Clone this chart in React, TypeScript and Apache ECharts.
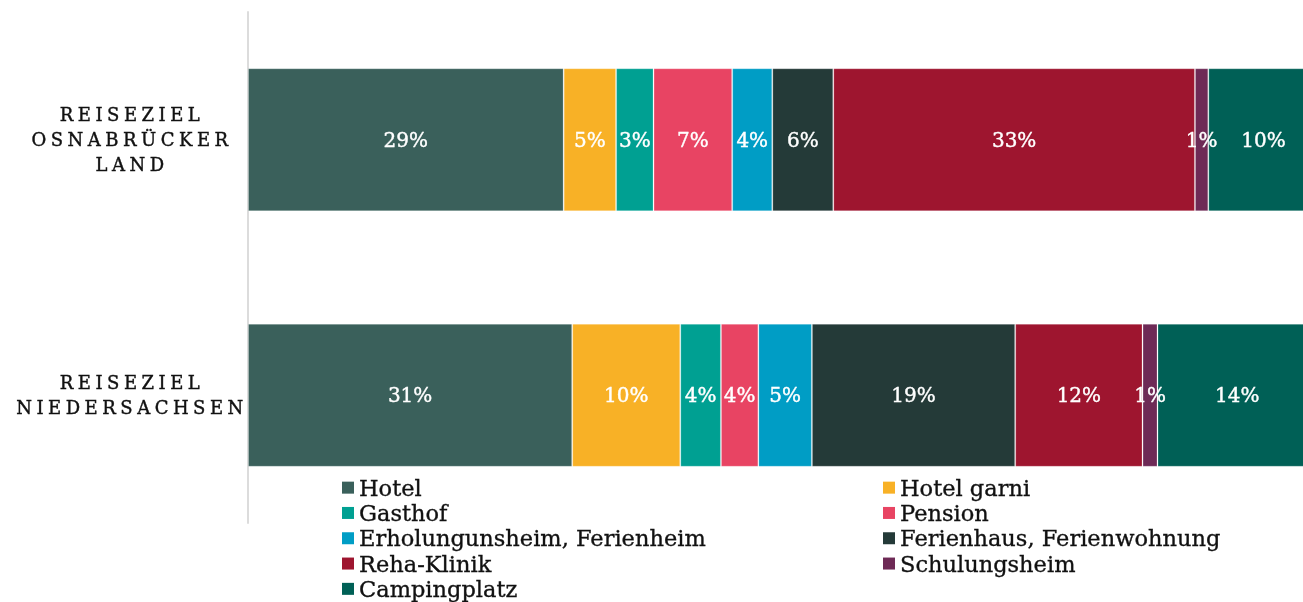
import React, { useEffect, useRef } from "react";
import * as echarts from "echarts";

const categories = ["REISEZIEL\nOSNABRÜCKER\nLAND", "REISEZIEL\nNIEDERSACHSEN"];
const seriesNames = [
  "Hotel",
  "Hotel garni",
  "Gasthof",
  "Pension",
  "Erholungunsheim, Ferienheim",
  "Ferienhaus, Ferienwohnung",
  "Reha-Klinik",
  "Schulungsheim",
  "Campingplatz",
];
// bar lengths
const osnaValues = [29.5, 4.9, 3.5, 7.35, 3.75, 5.7, 33.8, 1.25, 10.3];
const niedValues = [30.3, 10.1, 3.8, 3.5, 5.0, 19.0, 11.9, 1.4, 14.9];
// printed percentages
const osnaPct = [29, 5, 3, 7, 4, 6, 33, 1, 10];
const niedPct = [31, 10, 4, 4, 5, 19, 12, 1, 14];
const colors = [
  "#3a605b",
  "#f8b126",
  "#00a092",
  "#e84463",
  "#009dc5",
  "#243a38",
  "#9e152f",
  "#6e2a56",
  "#006056",
];
const legendLeft = [0, 2, 4, 6, 8].map((i) => seriesNames[i]);
const legendRight = [1, 3, 5, 7].map((i) => seriesNames[i]);

export default function App() {
  const ref = useRef<HTMLDivElement>(null);
  useEffect(() => {
    if (!ref.current) return;
    const chart = echarts.init(ref.current, null, { renderer: "svg" });
    const pct = [osnaPct, niedPct];
    const legendText = {
      fontFamily: "DejaVu Serif",
      fontSize: 22.5,
      color: "#111",
      lineHeight: 25.3,
      textBorderColor: "#111",
      textBorderWidth: 0.35,
    };
    const legendBase = {
      orient: "vertical",
      top: 475,
      padding: 0,
      itemGap: 0,
      itemWidth: 12,
      itemHeight: 12,
      icon: "rect",
      selectedMode: false,
      itemStyle: { borderWidth: 0 },
      textStyle: legendText,
    };
    chart.setOption({
      animation: false,
      grid: {
        left: 248,
        top: 12,
        width: 1070,
        bottom: 79,
        containLabel: false,
        outerBoundsMode: "none",
      },
      xAxis: { type: "value", min: 0, max: 100, show: false },
      yAxis: {
        type: "category",
        data: categories,
        inverse: true,
        axisLine: { show: true, lineStyle: { color: "#dcdcdc", width: 2 } },
        axisTick: { show: false },
        splitLine: { show: false },
        axisLabel: {
          fontFamily: "DejaVu Serif, spacedcaps",
          fontSize: 18,
          color: "#111",
          textBorderColor: "#111",
          textBorderWidth: 0.4,
          align: "center",
          margin: 116,
          lineHeight: 25,
        },
      },
      legend: [
        { ...legendBase, data: legendLeft, left: 342 },
        { ...legendBase, data: legendRight, left: 883 },
      ],
      series: seriesNames.map((name, i) => ({
        type: "bar",
        name,
        stack: "total",
        barWidth: 143,
        data: [osnaValues[i], niedValues[i]],
        itemStyle: {
          color: colors[i],
          borderColor: "rgba(255,255,255,0.22)",
          borderWidth: 1,
        },
        label: {
          show: true,
          position: "inside",
          color: "#fff",
          textBorderColor: "#fff",
          textBorderWidth: 0.4,
          fontFamily: "DejaVu Serif",
          fontSize: 20,
          formatter: (p: any) => pct[p.dataIndex][i] + "%",
        },
      })),
    });
    return () => chart.dispose();
  }, []);
  return (
    <>
      <style>{`text[style*="spacedcaps"]{letter-spacing:4.5px}`}</style>
      <div
        ref={ref}
        style={{ position: "fixed", left: 0, top: 0, width: 1303, height: 602 }}
      />
    </>
  );
}
